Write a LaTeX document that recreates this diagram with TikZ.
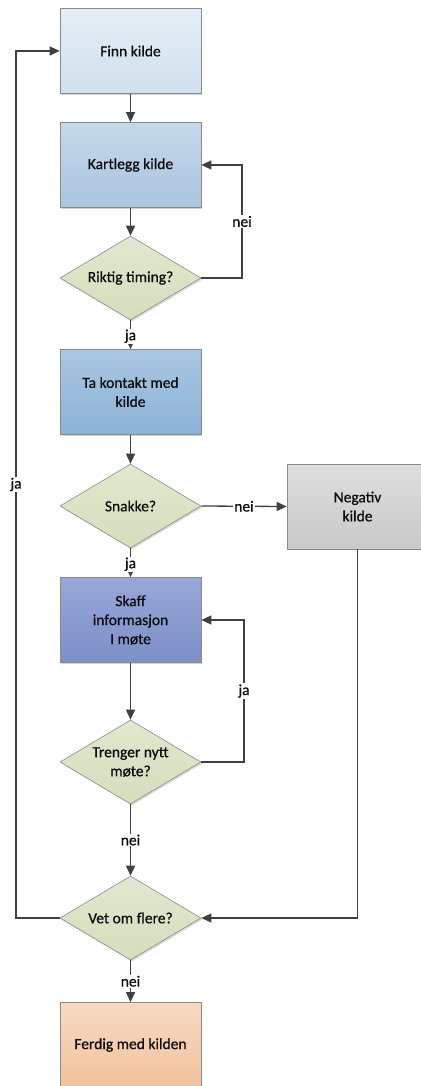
\documentclass[tikz,border=0pt]{standalone}
\usepackage{fontspec}
\setmainfont{Carlito}[UprightFeatures={FakeBold=0.7}]
\usetikzlibrary{shapes.geometric,arrows.meta,shadows}
\definecolor{linec}{HTML}{404040}
\definecolor{borderc}{HTML}{8A8A8A}
\definecolor{txt}{HTML}{0D0D0D}
\begin{document}
\begin{tikzpicture}[x=1pt,y=-1pt,
  every node/.style={font=\fontsize{15.5}{19}\selectfont, text=txt},
  box/.style={rectangle, draw=borderc, line width=0.7pt, minimum width=141pt, minimum height=85pt, inner sep=2pt, align=center,
    drop shadow={shadow xshift=1.2pt, shadow yshift=-1.2pt, fill=black!22, opacity=0.8}},
  dia/.style={diamond, draw=borderc, line width=0.6pt, minimum width=141pt, minimum height=84pt, inner sep=0pt,
    top color=diaT, bottom color=diaB,
    drop shadow={shadow xshift=1.5pt, shadow yshift=-1.5pt, fill=black!18, opacity=0.8}},
  arr/.style={draw=linec, line width=1.3pt, -{Triangle[length=10pt,width=9pt]}},
  lab/.style={fill=white, inner sep=1pt}
]
\definecolor{diaT}{HTML}{E0E8CF}
\definecolor{diaB}{HTML}{D4DFBB}
\useasboundingbox (0,0) rectangle (420,1086);

\node[box, top color={rgb,255:red,230;green,238;blue,246}, bottom color={rgb,255:red,208;green,224;blue,239}] (f) at (130.5,51) {Finn kilde};
\node[box, top color={rgb,255:red,198;green,216;blue,234}, bottom color={rgb,255:red,168;green,197;blue,224}] (k) at (130.5,165) {Kartlegg kilde};
\node[dia, label={[text=txt]center:Riktig timing?}] (d1) at (130.5,278) {};
\node[box, top color={rgb,255:red,169;green,198;blue,226}, bottom color={rgb,255:red,140;green,178;blue,214}] (t) at (130.5,392) {Ta kontakt med\\kilde};
\node[dia, label={[text=txt]center:Snakke?}] (d2) at (130.5,506) {};
\node[box, top color={rgb,255:red,222;green,222;blue,222}, bottom color={rgb,255:red,201;green,201;blue,201}] (n) at (357.5,506.5) {Negativ\\kilde};
\node[box, top color={rgb,255:red,152;green,167;blue,216}, bottom color={rgb,255:red,124;green,143;blue,200}] (s) at (130.5,620) {Skaff\\informasjon\\I møte};
\node[dia, label={[text=txt,align=center]center:Trenger nytt\\møte?}] (d3) at (130.5,762) {};
\node[dia, label={[text=txt]center:Vet om flere?}] (d4) at (130.5,918) {};
\node[box, top color={rgb,255:red,248;green,217;blue,194}, bottom color={rgb,255:red,242;green,194;blue,158}] (e) at (130.5,1045) {Ferdig med kilden};

\coordinate (r1) at (242,165);
\coordinate (r2) at (244,620);
\coordinate (l1) at (16,51);

\draw[arr] (f.south) -- (k.north);
\draw[arr] (k.south) -- (d1.north);
\draw[arr] (d1.east) -| node[lab,pos=0.75]{nei} (r1) -- (k.east);
\draw[arr] (d1.south) -- node[lab,pos=0.55]{ja} (t.north);
\draw[arr] (t.south) -- (d2.north);
\draw[arr] (d2.east) -- node[lab]{nei} (n.west);
\draw[arr] (d2.south) -- node[lab,pos=0.55]{ja} (s.north);
\draw[arr] (s.south) -- (d3.north);
\draw[arr] (d3.east) -| node[lab,pos=0.75]{ja} (r2) -- (s.east);
\draw[arr] (d3.south) -- node[lab]{nei} (d4.north);
\draw[arr] (n.south) |- (d4.east);
\draw[arr] (d4.west) -| node[lab,pos=0.75]{ja} (l1) -- (f.west);
\draw[arr] (d4.south) -- node[lab]{nei} (e.north);
\end{tikzpicture}
\end{document}
